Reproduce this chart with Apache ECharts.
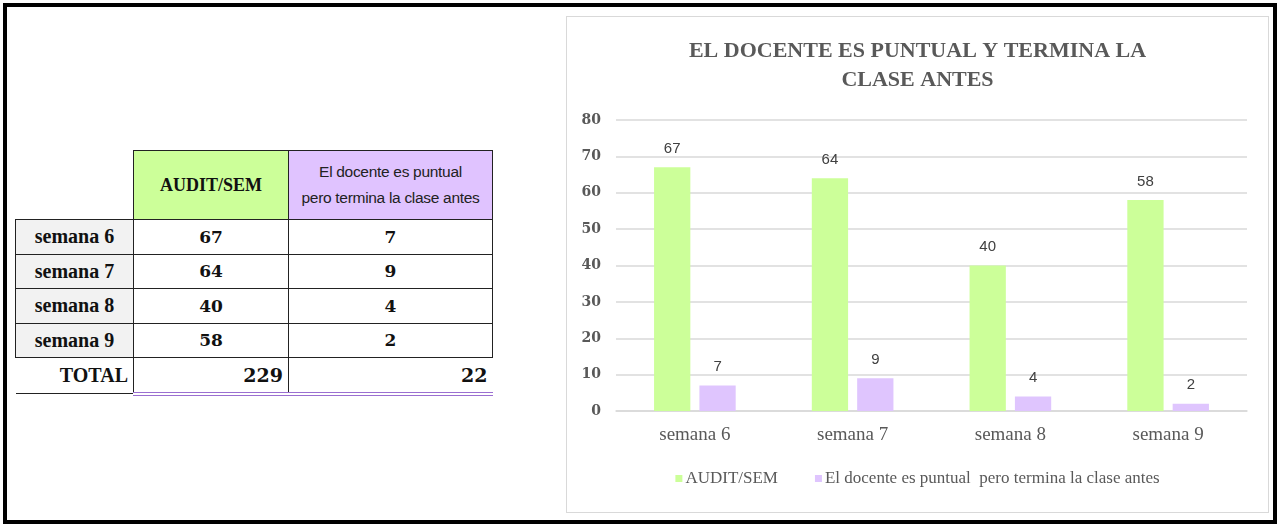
<!DOCTYPE html>
<html>
<head>
<meta charset="utf-8">
<script src="https://cdn.jsdelivr.net/npm/echarts@6/dist/echarts.min.js"></script>
<style>
  html, body { margin: 0; padding: 0; background: #fff; }
  body { width: 1284px; height: 525px; position: relative; overflow: hidden; }
  #frame {
    position: absolute; left: 3px; top: 3px; width: 1274px; height: 521px;
    border: 4px solid #000; box-sizing: border-box;
  }
  #tabla {
    position: absolute; left: 15px; top: 150px;
    border-collapse: collapse; font-family: 'Liberation Serif', serif; color: #111;
  }
  #tabla td, #tabla th { padding: 0; box-sizing: border-box; }
  #tabla th.h1 { background: #ccff99; border: 1.5px solid #222; width: 155px; height: 69px; font-size: 18px; font-weight: bold; }
  #tabla th.h2 { background: #e0c3ff; border: 1.5px solid #222; width: 204px; font-size: 15.5px; font-weight: normal;
    font-family: 'Liberation Sans', sans-serif; line-height: 26px; letter-spacing: -0.3px; color: #222; }
  #tabla td.lab { background: #f2f2f2; border: 1.5px solid #222; width: 118px; height: 34.5px; text-align: center; font-weight: bold; font-size: 20px; }
  #tabla td.val { border: 1.5px solid #222; text-align: center; font-weight: bold; font-size: 17px; font-family: 'DejaVu Serif', serif; }
  #tabla tr.tot td { height: 36px; font-weight: bold; font-size: 20px; text-align: right; padding-right: 5px; }
  #tabla tr.tot td.tv, #tabla tr.tot td.tv2 { font-family: 'DejaVu Serif', serif; font-size: 19px; }
  #tabla tr.tot td.tl { border-bottom: 1.5px solid #222; border-right: 1.5px solid #222; }
  #tabla tr.tot td.tv { border-bottom: 4px double #9b6fd1; border-right: 1.5px solid #222; }
  #tabla tr.tot td.tv2 { border-bottom: 4px double #9b6fd1; }
  #grafico {
    position: absolute; left: 566px; top: 16px; width: 703px; height: 497px;
    border: 1px solid #d9d9d9; box-sizing: border-box;
  }
</style>
</head>
<body>
<div id="frame"></div>
<table id="tabla"></table>
<div id="grafico"></div>
<script>
var semanas = ['semana 6', 'semana 7', 'semana 8', 'semana 9'];
var audit = [67, 64, 40, 58];
var puntual = [7, 9, 4, 2];
var serieNames = ['AUDIT/SEM', 'El docente es puntual  pero termina la clase antes'];
var yTicks = [0, 10, 20, 30, 40, 50, 60, 70, 80];

// tabla de la izquierda
var t = document.getElementById('tabla');
var html = '<tr><td></td><th class="h1">AUDIT/SEM</th><th class="h2">El docente es puntual<br>pero termina la clase antes</th></tr>';
var s1 = 0, s2 = 0;
for (var i = 0; i < semanas.length; i++) {
  html += '<tr><td class="lab">' + semanas[i] + '</td><td class="val">' + audit[i] + '</td><td class="val">' + puntual[i] + '</td></tr>';
  s1 += audit[i]; s2 += puntual[i];
}
html += '<tr class="tot"><td class="tl">TOTAL</td><td class="tv">' + s1 + '</td><td class="tv2">' + s2 + '</td></tr>';
t.innerHTML = html;

// grafico
var chart = echarts.init(document.getElementById('grafico'));
var gris = '#595959';
var serif = "'Liberation Serif', serif";
var sans = "'Liberation Sans', sans-serif";
var option = {
  animation: false,
  title: {
    text: 'EL DOCENTE ES PUNTUAL Y TERMINA LA\nCLASE ANTES',
    left: 'center', top: 15,
    textStyle: { fontFamily: serif, fontWeight: 'bold', fontSize: 22, color: gris, lineHeight: 29 }
  },
  legend: {
    bottom: 20, left: 'center',
    icon: 'rect', itemWidth: 7, itemHeight: 7, itemGap: 37,
    textStyle: { fontFamily: serif, fontSize: 17, color: gris, padding: [0, 0, 0, -2] },
    data: serieNames
  },
  grid: { left: 49, right: 21, top: 103, bottom: 101 },
  xAxis: {
    type: 'category', data: semanas,
    axisTick: { show: false },
    axisLine: { lineStyle: { color: '#d9d9d9', width: 1.5 } },
    axisLabel: { fontFamily: serif, fontSize: 19, color: gris, margin: 15 }
  },
  yAxis: {
    type: 'value', min: yTicks[0], max: yTicks[yTicks.length - 1], interval: 10,
    axisLine: { show: false }, axisTick: { show: false },
    splitLine: { lineStyle: { color: '#d9d9d9', width: 1.5 } },
    axisLabel: { fontFamily: "'DejaVu Serif', serif", fontWeight: 'bold', fontSize: 14, color: gris, margin: 15 }
  },
  series: [
    {
      name: serieNames[0], type: 'bar', data: audit,
      barWidth: '23%', barGap: '25%',
      itemStyle: { color: '#ccff99' },
      label: { show: true, position: 'top', distance: 11, fontFamily: sans, fontSize: 15, color: '#404040' }
    },
    {
      name: serieNames[1], type: 'bar', data: puntual,
      barWidth: '23%', barGap: '25%',
      itemStyle: { color: '#dfc5fe' },
      label: { show: true, position: 'top', distance: 11, fontFamily: sans, fontSize: 15, color: '#404040' }
    }
  ]
};
chart.setOption(option);
</script>
</body>
</html>
